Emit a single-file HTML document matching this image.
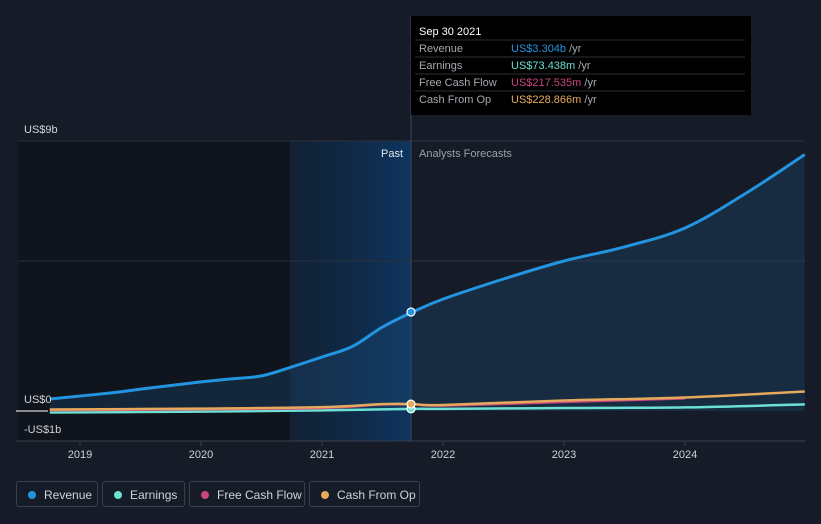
<!DOCTYPE html>
<html><head><meta charset="utf-8"><style>
body{margin:0;background:#151b27;width:821px;height:524px;overflow:hidden;font-family:"Liberation Sans",sans-serif;}
svg{display:block}
.leg{position:absolute;top:481px;height:26px;border:1px solid #3a404b;border-radius:3px;color:#d0d3d8;font-size:12px;line-height:26px;box-sizing:border-box;padding-left:27px}
.leg i{position:absolute;left:11px;top:9px;width:8px;height:8px;border-radius:50%}
</style></head><body>
<svg id="c" width="821" height="524"></svg>
<div class="leg" style="left:16px;width:82px"><i style="background:#2394df"></i>Revenue</div>
<div class="leg" style="left:102px;width:83px"><i style="background:#6ce0d3"></i>Earnings</div>
<div class="leg" style="left:189px;width:116px"><i style="background:#c9477f"></i>Free Cash Flow</div>
<div class="leg" style="left:309px;width:111px"><i style="background:#e7a95b"></i>Cash From Op</div>
<script>
const revT=[2018.75,2019.25,2019.5,2020,2020.25,2020.5,2020.75,2021,2021.25,2021.5,2021.75,2022,2022.5,2023,2023.5,2024,2024.5,2024.99];
const revV=[0.4,0.6,0.73,0.97,1.07,1.17,1.47,1.8,2.15,2.8,3.3,3.73,4.4,5.0,5.47,6.1,7.25,8.55];
const cfoT=[2018.75,2020,2021,2021.5,2021.75,2022,2023,2024,2024.99];
const cfoV=[0.05,0.08,0.13,0.23,0.23,0.2,0.35,0.45,0.65];
const earT=[2018.75,2020,2021,2021.75,2022,2023,2024,2024.99];
const earV=[-0.05,-0.02,0.02,0.07,0.07,0.1,0.12,0.22];
const fcfT=[2018.75,2020,2021,2021.5,2021.75,2022,2023,2024];
const fcfV=[0.03,0.06,0.1,0.22,0.22,0.18,0.3,0.42];
const years=[2019,2020,2021,2022,2023,2024];
const X=t=>80+(t-2019)*121, Y=v=>411-v*30;
const s=document.getElementById('c'),NS='http://www.w3.org/2000/svg';
function el(tag,a,p){const e=document.createElementNS(NS,tag);for(const k in a)e.setAttribute(k,a[k]);(p||s).appendChild(e);return e;}
s.innerHTML='<defs><linearGradient id="pg" x1="0" x2="1"><stop offset="0" stop-color="#0d2a4a" stop-opacity="0.4"/><stop offset="1" stop-color="#0e3560"/></linearGradient></defs>';
let r=el('rect',{x:18,y:141,width:272,height:300,fill:'#10141c'});
r=el('rect',{x:290,y:141,width:121,height:300,fill:'url(#pg)'});
[141,261].forEach(y=>el('line',{x1:18,x2:805,y1:y,y2:y,stroke:'#2b313c'}));
el('line',{x1:16,x2:48,y1:411,y2:411,stroke:'#fff'});
el('line',{x1:16,x2:805,y1:441,y2:441,stroke:'#3a404b'});
el('line',{x1:411,x2:411,y1:16,y2:441,stroke:'#3a4a60'});
function path(T,V){const P=T.map((t,i)=>[X(t),Y(V[i])]);let d='M'+P[0][0].toFixed(1)+','+P[0][1].toFixed(1);
for(let i=0;i<P.length-1;i++){const p0=P[Math.max(0,i-1)],p1=P[i],p2=P[i+1],p3=P[Math.min(P.length-1,i+2)];
const c1=[p1[0]+(p2[0]-p0[0])/6,p1[1]+(p2[1]-p0[1])/6],c2=[p2[0]-(p3[0]-p1[0])/6,p2[1]-(p3[1]-p1[1])/6];
d+='C'+c1.map(v=>v.toFixed(1))+' '+c2.map(v=>v.toFixed(1))+' '+p2.map(v=>v.toFixed(1));}return d;}
let a=el('path',{d:path(revT,revV)+'L'+X(revT[revT.length-1])+',411L'+X(revT[0])+',411Z',fill:'#1d4a73',opacity:0.35});

[[earT,earV,'#6ce0d3','earnings-line'],[fcfT,fcfV,'#c9477f','fcf-line'],[cfoT,cfoV,'#e7a95b','cfo-line'],[revT,revV,'#2394df','revenue-line']].forEach(([T,V,c,n])=>{
const l=el('path',{d:path(T,V),fill:'none',stroke:c,'stroke-width':n=='revenue-line'?3:2.5,'stroke-linejoin':'round'});
});
[[0.07,'#6ce0d3'],[0.23,'#e7a95b'],[3.3,'#2394df']].forEach(([v,c])=>el('circle',{cx:411,cy:Y(v),r:4,fill:c,stroke:'#fff','stroke-width':1.2}));
function txt(x,y,t,o){const e=el('text',Object.assign({x:x,y:y,fill:'#d0d3d8','font-size':11},o||{}));e.textContent=t;return e;}
let t=txt(24,133,'US$9b');
t=txt(24,403,'US$0');
t=txt(24,433,'-US$1b');
years.forEach(y=>{el('line',{x1:X(y),x2:X(y),y1:441,y2:446,stroke:'#3a404b'});const e=txt(X(y),458,String(y),{'text-anchor':'middle'});});
t=txt(403,157,'Past',{'text-anchor':'end',fill:'#e6e8eb'});
t=txt(419,157,'Analysts Forecasts',{fill:'#9aa0a8'});
const g=el('g',{});
el('rect',{x:411,y:16,width:340,height:99,fill:'#000'},g);
const tt=el('text',{x:419,y:35,fill:'#fff','font-size':11},g);tt.textContent='Sep 30 2021';
const rows=[['Revenue','US$3.304b','#2394df'],['Earnings','US$73.438m','#6ce0d3'],['Free Cash Flow','US$217.535m','#c9477f'],['Cash From Op','US$228.866m','#e7a95b']];
rows.forEach((rw,i)=>{const y=52+i*17;el('line',{x1:415,x2:745,y1:y-12,y2:y-12,stroke:'#2b2f36'},g);
const a=el('text',{x:419,y:y,fill:'#a5a9b0','font-size':11},g);a.textContent=rw[0];
const b=el('text',{x:511,y:y,fill:rw[2],'font-size':11},g);b.textContent=rw[1];
const c=el('tspan',{fill:'#a5a9b0'},b);c.textContent=' /yr';});
</script>
</body></html>
